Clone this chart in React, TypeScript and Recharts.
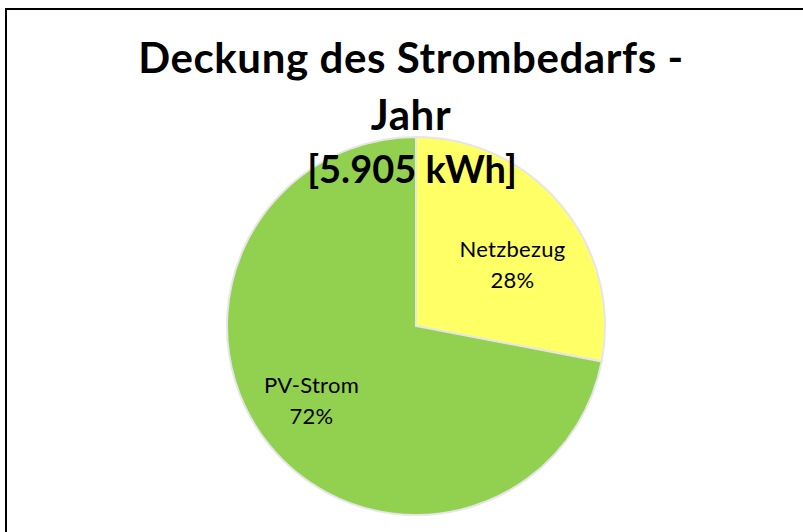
import React from "react";
import { PieChart, Pie, Cell } from "recharts";

const categories = ["Netzbezug", "PV-Strom"];
const shares = [28, 72];
const colors = ["#FFFF66", "#92D050"];
const titleLines = ["Deckung des Strombedarfs -", "Jahr", "[5.905 kWh]"];

const data = categories.map((name, i) => ({ name, value: shares[i] }));

const FONT = "Lato, 'Open Sans', sans-serif";
const RADIAN = Math.PI / 180;

const renderLabel = (props: any) => {
  const { cx, cy, midAngle, outerRadius, index } = props;
  const x = cx - 4 + outerRadius * 0.69 * Math.cos(-midAngle * RADIAN);
  const y = cy + 7 + outerRadius * 0.564 * Math.sin(-midAngle * RADIAN);
  const d = data[index];
  return (
    <text x={x} y={y} textAnchor="middle" fontFamily={FONT} fontSize={22} letterSpacing={0.3} fill="#000">
      <tspan x={x} dy={-8}>{d.name}</tspan>
      <tspan x={x} dy={31}>{`${d.value}%`}</tspan>
    </text>
  );
};

export default function App() {
  return (
    <div style={{ position: "absolute", left: 0, top: 0, width: 803, height: 532, overflow: "hidden", background: "#fff" }}>
      <div style={{ position: "absolute", left: 5, top: 8, width: 798, height: 524, borderLeft: "2px solid #000", borderTop: "2px solid #000", boxSizing: "border-box" }} />
      <div style={{ position: "absolute", left: 0, top: 0 }}>
        <PieChart width={803} height={532} margin={{ top: 0, right: 0, bottom: 0, left: 0 }}>
          <Pie
            data={data}
            dataKey="value"
            nameKey="name"
            cx={416}
            cy={326}
            outerRadius={189}
            startAngle={90}
            endAngle={-270}
            stroke="#E6E6E6"
            strokeWidth={2}
            label={renderLabel}
            labelLine={false}
            isAnimationActive={false}
          >
            {data.map((d, i) => (
              <Cell key={d.name} fill={colors[i]} />
            ))}
          </Pie>
        </PieChart>
      </div>
      <svg width={803} height={532} style={{ position: "absolute", left: 0, top: 0, pointerEvents: "none" }}>
        <text x={411} y={73} textAnchor="middle" fontFamily={FONT} fontWeight={700} fontSize={42} letterSpacing={0.6} fill="#000">{titleLines[0]}</text>
        <text x={411} y={130} textAnchor="middle" fontFamily={FONT} fontWeight={700} fontSize={42} letterSpacing={0.6} fill="#000">{titleLines[1]}</text>
        <text x={412} y={183} textAnchor="middle" fontFamily={FONT} fontWeight={700} fontSize={38} fill="#000">{titleLines[2]}</text>
      </svg>
    </div>
  );
}
